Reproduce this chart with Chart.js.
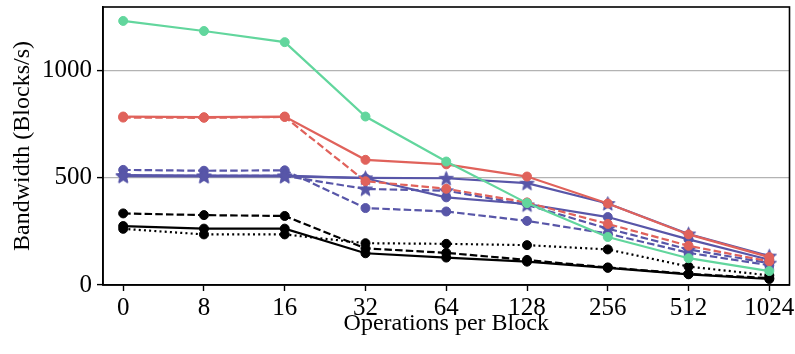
<!DOCTYPE html>
<html>
<head>
<meta charset="utf-8">
<script src="https://cdn.jsdelivr.net/npm/chart.js@4/dist/chart.umd.min.js"></script>
<style>
  html, body { margin: 0; padding: 0; background: #fff; }
  #wrap { width: 795px; height: 354px; position: relative; }
</style>
</head>
<body>
<div id="wrap"><canvas id="bw"></canvas></div>
<script>
  "use strict";

  // ---- data ----
  const OPS = ["0", "8", "16", "32", "64", "128", "256", "512", "1024"];
  const Y_TICKS = [0, 500, 1000];

  const greenSolid = [1232, 1185, 1133, 786, 576, 382, 224, 125, 65];
  const redSolid = [786, 783, 786, 584, 563, 506, 380, 236, 130];
  const redDashed = [781, 780, 784, 484, 449, 385, 285, 183, 110];
  const blueStarSolid = [508, 507, 507, 500, 498, 475, 380, 238, 135];
  const blueStarDashed = [510, 509, 509, 448, 440, 374, 263, 166, 102];
  const blueSolid = [513, 510, 510, 498, 409, 378, 317, 213, 118];
  const blueDashed = [537, 533, 535, 359, 343, 299, 240, 150, 92];
  const blackDashed = [334, 326, 322, 171, 150, 117, 82, 52, 32];
  const blackDotted = [262, 236, 236, 195, 192, 186, 166, 86, 45];
  const blackSolid = [275, 263, 263, 148, 128, 109, 80, 50, 28];

  const C = {
    green: "#62d69d",
    red: "#e0625b",
    blue: "#5856a8",
    black: "#000000",
    grid: "#b3b3b3",
  };
  const FONT = "'Liberation Serif', 'Times New Roman', serif";

  // filled five-point star, used as a point style
  function starImage(color, rOut, rIn) {
    const s = Math.ceil(rOut * 2 + 2);
    const cv = document.createElement("canvas");
    cv.width = s; cv.height = s;
    const g = cv.getContext("2d");
    const cx = s / 2, cy = s / 2 + 0.6;
    g.beginPath();
    for (let i = 0; i < 10; i++) {
      const r = i % 2 ? rIn : rOut;
      const a = -Math.PI / 2 + i * Math.PI / 5;
      const px = cx + r * Math.cos(a), py = cy + r * Math.sin(a);
      i ? g.lineTo(px, py) : g.moveTo(px, py);
    }
    g.closePath();
    g.fillStyle = color;
    g.fill();
    g.lineWidth = 1;
    g.strokeStyle = color;
    g.stroke();
    return cv;
  }
  const blueStar = starImage(C.blue, 7.5, 3.2);

  const DASH = [7.5, 3.2];
  const DOT = [2, 3.2];

  function series(label, values, color, dash, marker) {
    return {
      label,
      data: values.map((v, i) => ({ x: i, y: v })),
      borderColor: color,
      backgroundColor: color,
      borderWidth: 2.2,
      borderDash: dash || [],
      borderCapStyle: "butt",
      tension: 0,
      pointStyle: marker || "circle",
      pointRadius: 4.5,
      pointHoverRadius: 4.5,
      pointBorderWidth: 1,
      pointBorderColor: color,
      pointBackgroundColor: color,
    };
  }

  // first dataset is drawn on top
  const datasets = [
    series("green", greenSolid, C.green),
    series("red", redSolid, C.red),
    series("red dashed", redDashed, C.red, DASH),
    series("blue star", blueStarSolid, C.blue, null, blueStar),
    series("blue star dashed", blueStarDashed, C.blue, DASH, blueStar),
    series("blue", blueSolid, C.blue),
    series("blue dashed", blueDashed, C.blue, DASH),
    series("black dashed", blackDashed, C.black, DASH),
    series("black dotted", blackDotted, C.black, DOT),
    series("black", blackSolid, C.black),
  ];

  // closes the frame on the top and right sides
  const frame = {
    id: "frame",
    afterDatasetsDraw(chart) {
      const { ctx, chartArea: a } = chart;
      ctx.save();
      ctx.strokeStyle = "#000";
      ctx.lineWidth = 1.6;
      ctx.strokeRect(a.left, a.top, a.right - a.left, a.bottom - a.top);
      ctx.restore();
    },
  };

  new Chart(document.getElementById("bw"), {
    type: "line",
    data: { datasets },
    plugins: [frame],
    options: {
      responsive: true,
      maintainAspectRatio: false,
      animation: false,
      events: [],
      layout: { padding: { top: 7, right: 5, left: 0, bottom: 16 } },
      plugins: { legend: { display: false }, tooltip: { enabled: false } },
      scales: {
        x: {
          type: "linear",
          min: -0.25,
          max: OPS.length - 0.75,
          afterBuildTicks: (s) => { s.ticks = OPS.map((_, i) => ({ value: i })); },
          afterFit: (s) => { s.height = 53; s.paddingLeft = 0; s.paddingRight = 0; },
          grid: { drawOnChartArea: false, drawTicks: true, tickLength: 6, tickColor: "#000", tickWidth: 1.4 },
          border: { color: "#000", width: 1.6 },
          ticks: {
            color: "#000",
            font: { family: FONT, size: 25 },
            padding: 2,
            maxRotation: 0,
            autoSkip: false,
            callback: (v) => OPS[v],
          },
          title: {
            display: true,
            text: "Operations per Block",
            color: "#000",
            font: { family: FONT, size: 24 },
            padding: 0,
          },
        },
        y: {
          min: 0,
          max: 1297,
          afterBuildTicks: (s) => { s.ticks = Y_TICKS.map((v) => ({ value: v })); },
          afterFit: (s) => { s.width = 103; s.paddingTop = 0; s.paddingBottom = 0; },
          grid: {
            color: (c) => (c.tick && c.tick.value === 0 ? "rgba(0,0,0,0)" : C.grid),
            lineWidth: 1.2,
            drawTicks: true,
            tickLength: 6,
            tickColor: "#000",
            tickWidth: 1.4,
          },
          border: { color: "#000", width: 1.6 },
          ticks: {
            color: "#000",
            font: { family: FONT, size: 25 },
            padding: 5,
            autoSkip: false,
            callback: (v) => String(v),
          },
          title: {
            display: true,
            text: "Bandwidth (Blocks/s)",
            color: "#000",
            font: { family: FONT, size: 24 },
            padding: { top: 8, bottom: 0 },
          },
        },
      },
    },
  });
</script>
</body>
</html>
